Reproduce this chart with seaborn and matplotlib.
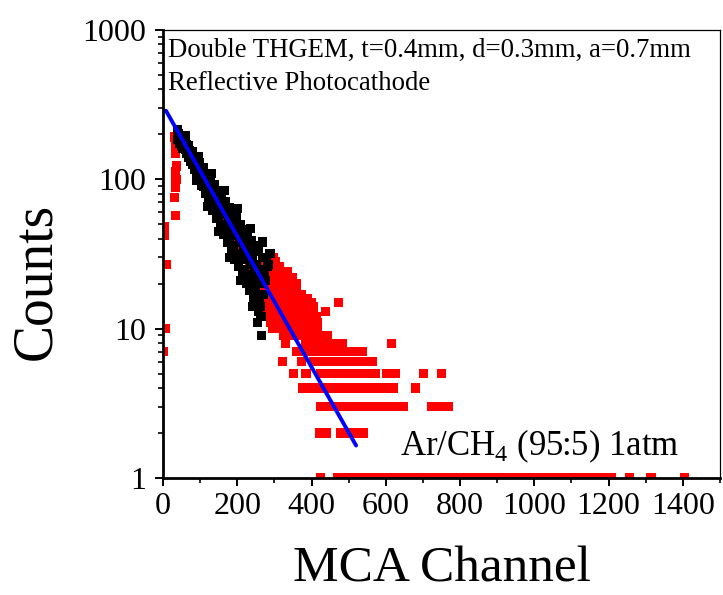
import matplotlib
matplotlib.use("Agg")
import matplotlib.pyplot as plt
import matplotlib.ticker as mticker
import pandas as pd
import seaborn as sns

# black spectrum (channel, counts)
black_ch = list(range(38, 268, 2)) + [268, 270, 272, 275, 278, 281, 284, 288, 255, 261, 266, 258,
                                      60, 95, 130, 165, 200, 235, 268,
                                      90, 120, 150, 180, 210, 240]
black_counts = [215, 185, 203, 175, 194,
                197, 170, 186, 160, 178,
                182, 158, 172, 150, 165,
                167, 141, 156, 132, 149,
                153, 126, 142, 117, 134,
                140, 112, 129, 103, 120,
                129, 100, 117, 91, 108,
                119, 89, 106, 80, 97,
                109, 80, 96, 70, 88,
                100, 71, 88, 62, 79,
                92, 63, 80, 55, 71,
                84, 56, 72, 48, 64,
                77, 50, 66, 43, 58,
                71, 45, 60, 38, 52,
                65, 40, 54, 33, 47,
                60, 36, 49, 29, 42,
                55, 32, 45, 26, 38,
                50, 29, 40, 23, 34,
                46, 25, 37, 20, 31,
                42, 23, 33, 18, 27,
                39, 20, 30, 16, 25,
                36, 18, 27, 14, 22,
                33, 16, 25, 12, 20,
                30, 17, 24, 21, 30, 26, 27, 32, 11, 14, 9, 13,
                195, 142, 110, 84, 64, 47, 38,
                98, 66, 45, 30, 21, 14]

# red spectrum: rising edge, part under the black band, then the tail
red_lead_ch = [1, 6, 10, 4, 5, 34, 31, 33, 35, 34, 36, 33, 35, 37, 32, 40]
red_lead_counts = [7, 10, 27, 42, 48, 57, 76, 88, 100, 112, 123, 150, 165, 180, 192, 205]
red_band_ch = list(range(44, 266, 10))
red_band_counts = [194, 178, 165, 149, 134, 120, 108, 97, 88, 79, 71, 64,
                   58, 52, 47, 42, 38, 34, 31, 27, 25, 22, 20]
red_tail_levels = [30, 28, 26, 24, 22, 20, 18, 17, 16, 15, 14, 13, 12, 11, 10,
                   9, 8, 7, 6, 5, 4, 3, 2, 1]
red_tail_ch = [
    [268, 282, 296],
    [274, 290, 304],
    [266, 280, 298, 314],
    [272, 288, 306, 322, 336],
    [268, 284, 300, 318, 334, 348],
    [276, 292, 310, 328, 346, 360],
    [270, 288, 306, 324, 342, 358],
    [282, 300, 318, 338, 356, 374],
    [276, 294, 312, 330, 350, 370, 390],
    [286, 304, 322, 340, 358, 380, 400, 473],
    [280, 298, 316, 334, 352, 372, 392, 405],
    [274, 292, 310, 328, 346, 366, 386, 404, 437],
    [284, 302, 320, 338, 358, 378, 398, 414],
    [290, 308, 326, 344, 364, 384, 404, 416],
    [296, 314, 332, 350, 370, 390, 408, 416],
    [326, 342, 360, 378, 396, 414, 432, 443],
    [330, 385, 402, 420, 438, 456, 472, 483, 615],
    [361, 378, 396, 414, 432, 450, 468, 486, 504, 520, 537],
    [322, 372, 406, 422, 438, 454, 470, 486, 502, 518, 537, 563],
    [352, 385, 424, 440, 456, 472, 488, 504, 520, 536, 552, 572, 601, 626, 701, 751],
    [376, 401, 417, 433, 449, 465, 481, 497, 513, 529, 545, 561, 577, 593, 609, 620, 680],
    [425, 441, 457, 473, 489, 505, 521, 537, 553, 569, 585, 601, 617, 633, 648, 724, 742, 758, 768],
    [422, 440, 477, 493, 509, 525, 540],
    [424, 469, 484, 499, 513, 528, 543, 557, 572, 587, 601, 616, 631, 645, 660, 675,
     689, 704, 719, 733, 748, 763, 777, 792, 807, 821, 836, 851, 865, 880, 895, 909,
     924, 939, 953, 968, 983, 997, 1012, 1027, 1041, 1056, 1071, 1085, 1100, 1115,
     1129, 1144, 1159, 1173, 1188, 1208, 1256, 1314, 1405],
]

# exponential fit, end points
fit_ch = [8, 520]
fit_counts = [288, 1.65]

red_x = red_lead_ch + red_band_ch
red_y = red_lead_counts + red_band_counts
for level, chans in zip(red_tail_levels, red_tail_ch):
    red_x += chans
    red_y += [level] * len(chans)

df = pd.DataFrame({
    "channel": red_x + black_ch,
    "counts": red_y + black_counts,
    "series": ["red"] * len(red_x) + ["black"] * len(black_ch),
})

sns.set_theme(style="ticks")
plt.rcParams["font.family"] = ["Liberation Serif", "DejaVu Serif"]
plt.rcParams["mathtext.fontset"] = "custom"
plt.rcParams["mathtext.rm"] = "Liberation Serif"
plt.rcParams["text.color"] = "black"
plt.rcParams["axes.labelcolor"] = "black"
plt.rcParams["axes.edgecolor"] = "black"
plt.rcParams["xtick.color"] = "black"
plt.rcParams["ytick.color"] = "black"

fig = plt.figure(figsize=(7.23, 5.95), dpi=100)
ax = fig.add_axes([163 / 723, 1 - 478 / 595, 557 / 723, 448 / 595])

sns.scatterplot(data=df, x="channel", y="counts", hue="series",
                palette={"red": "#ff0000", "black": "#000000"},
                marker="s", s=44, linewidth=0, legend=False, ax=ax)
sns.lineplot(x=fit_ch, y=fit_counts, color="#0000ff", lw=2.8, ax=ax)

ax.set_yscale("log")
ax.set_xlim(0, 1500)
ax.set_ylim(1, 1000)
ax.xaxis.set_major_locator(mticker.MultipleLocator(200))
ax.xaxis.set_minor_locator(mticker.MultipleLocator(100))
ax.yaxis.set_major_locator(mticker.LogLocator(base=10))
ax.yaxis.set_minor_locator(mticker.LogLocator(base=10, subs=range(2, 10)))
ax.yaxis.set_major_formatter(mticker.FuncFormatter(lambda v, _: f"{v:g}"))
ax.yaxis.set_minor_formatter(mticker.NullFormatter())

for side in ["left", "bottom"]:
    ax.spines[side].set_linewidth(2)
for side in ["top", "right"]:
    ax.spines[side].set_linewidth(0.9)
    ax.spines[side].set_visible(True)
ax.tick_params(which="both", direction="out", top=False, right=False, colors="black")
ax.tick_params(which="major", length=6, width=1.4, labelsize=23)
ax.tick_params(axis="y", which="major", pad=6)
ax.tick_params(axis="x", which="major", pad=4)
ax.tick_params(which="minor", length=3.5, width=1.2)

ax.set_xlabel("MCA Channel", fontsize=37)
ax.set_ylabel("Counts", fontsize=40)
ax.xaxis.set_label_coords(0.5, -0.152)
ax.yaxis.set_label_coords(-0.18, 0.438)

ax.text(0.009, 0.940, "Double THGEM, t=0.4mm, d=0.3mm, a=0.7mm",
        transform=ax.transAxes, fontsize=19.3, va="baseline")
ax.text(0.009, 0.866, "Reflective Photocathode",
        transform=ax.transAxes, fontsize=19.3, va="baseline")
ax.text(0.4255, 0.0513, r"Ar/CH$_\mathrm{4}$ (95:5) 1atm",
        transform=ax.transAxes, fontsize=25, va="baseline")

plt.savefig("out.png", dpi=100)
plt.close()
